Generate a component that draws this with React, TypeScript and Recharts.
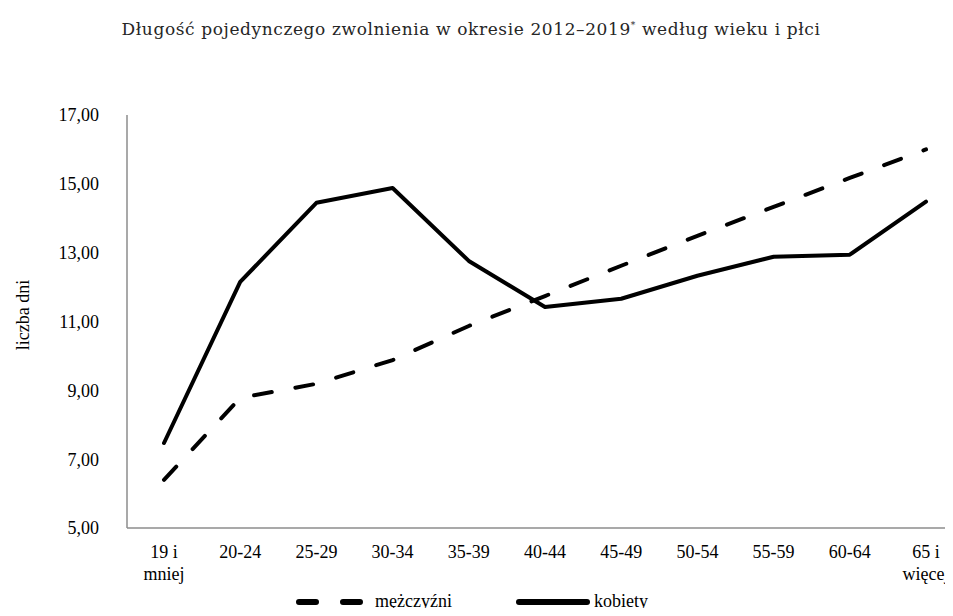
import { LineChart, Line, XAxis, YAxis } from "recharts";

// Długość pojedynczego zwolnienia wg grupy wieku, osobno dla mężczyzn i kobiet.
const GRUPY_WIEKU = [
  "19 i|mniej",
  "20-24",
  "25-29",
  "30-34",
  "35-39",
  "40-44",
  "45-49",
  "50-54",
  "55-59",
  "60-64",
  "65 i|więcej",
];
const MEZCZYZNI = [6.4, 8.78, 9.19, 9.88, 10.87, 11.74, 12.62, 13.49, 14.33, 15.17, 16.0];
const KOBIETY = [7.47, 12.15, 14.45, 14.88, 12.76, 11.42, 11.66, 12.33, 12.88, 12.94, 14.48];
const OS_Y = [5, 7, 9, 11, 13, 15, 17];

const dane = GRUPY_WIEKU.map((grupa, i) => ({
  grupa,
  mezczyzni: MEZCZYZNI[i],
  kobiety: KOBIETY[i],
}));

const SERIF = "'Liberation Serif', 'Times New Roman', serif";
const fmt = (v: number) => v.toFixed(2).replace(".", ",");

// etykiety osi X mogą mieć dwie linie, rozdzielone "|"
function TickWieku({ x, y, payload }: any) {
  const linie = String(payload.value).split("|");
  return (
    <text x={x} y={y} textAnchor="middle" fontFamily={SERIF} fontSize={18} fill="#000">
      {linie.map((l, i) => (
        <tspan key={i} x={x} dy={22}>
          {l}
        </tspan>
      ))}
    </text>
  );
}

export default function App() {
  return (
    <div
      style={{
        position: "relative",
        width: 953,
        height: 616,
        margin: -8,
        overflow: "hidden",
        background: "#fff",
        fontFamily: SERIF,
      }}
    >
      <div
        style={{
          position: "absolute",
          top: 19,
          left: 0,
          width: 942,
          textAlign: "center",
          fontFamily: "'DejaVu Serif', serif",
          fontSize: 17,
          letterSpacing: 0.6,
          color: "#262626",
          whiteSpace: "nowrap",
        }}
      >
        Długość pojedynczego zwolnienia w okresie 2012–2019
        <sup style={{ fontSize: 9 }}>*</sup> według wieku i płci
      </div>

      <div
        style={{
          position: "absolute",
          left: 23,
          top: 315,
          transform: "translate(-50%, -50%) rotate(-90deg)",
          fontSize: 18,
          whiteSpace: "nowrap",
        }}
      >
        liczba dni
      </div>

      <div style={{ position: "absolute", left: 0, top: 0 }}>
        <LineChart
          width={1000}
          height={616}
          data={dane}
          margin={{ top: 115, right: 36, left: 67, bottom: 48 }}
        >
          <XAxis
            dataKey="grupa"
            height={40}
            tickLine={false}
            interval={0}
            padding={{ left: 37, right: 38 }}
            stroke="#8c8c8c"
            strokeWidth={1.5}
            tick={<TickWieku />}
          />
          <YAxis
            width={60}
            domain={[5, 17]}
            ticks={OS_Y}
            tickFormatter={fmt}
            tickLine={false}
            stroke="#8c8c8c"
            strokeWidth={1.5}
            tickMargin={22}
            tick={{ fill: "#000", fontSize: 18, fontFamily: SERIF }}
          />
          <Line
            dataKey="mezczyzni"
            stroke="#000"
            strokeWidth={4}
            strokeDasharray="18 24"
            strokeLinecap="round"
            dot={false}
            activeDot={false}
            isAnimationActive={false}
          />
          <Line
            dataKey="kobiety"
            stroke="#000"
            strokeWidth={4}
            strokeLinecap="round"
            strokeLinejoin="round"
            dot={false}
            activeDot={false}
            isAnimationActive={false}
          />
        </LineChart>
      </div>

      <div
        style={{
          position: "absolute",
          left: 295,
          top: 591,
          display: "flex",
          alignItems: "center",
          fontSize: 18,
          whiteSpace: "nowrap",
        }}
      >
        <svg width={72} height={10}>
          <line x1={4} y1={5} x2={65} y2={5} stroke="#000" strokeWidth={6} strokeLinecap="round" strokeDasharray="17 27" />
        </svg>
        <span style={{ marginLeft: 8 }}>mężczyźni</span>
        <svg width={76} height={10} style={{ marginLeft: 63 }}>
          <line x1={4} y1={5} x2={72} y2={5} stroke="#000" strokeWidth={6} strokeLinecap="round" />
        </svg>
        <span style={{ marginLeft: 3 }}>kobiety</span>
      </div>
    </div>
  );
}
